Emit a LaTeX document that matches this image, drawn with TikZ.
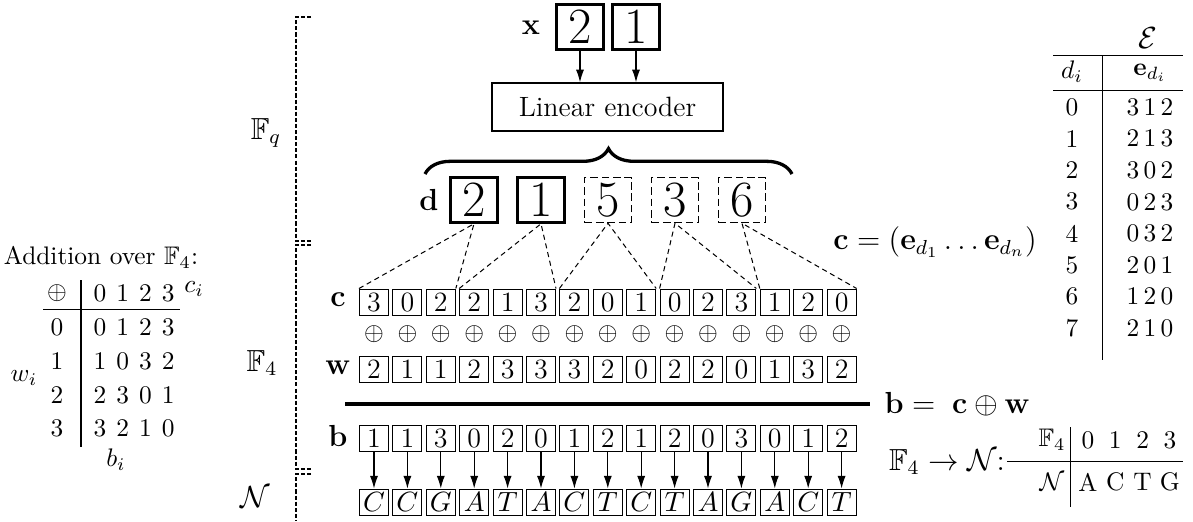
\documentclass[tikz,border=0pt]{standalone}
\usepackage{amsmath,amssymb}
\usetikzlibrary{decorations.pathreplacing,arrows.meta}
\newcommand\pxu{0.3937pt}
\begin{document}
\begin{tikzpicture}[x=0.3937pt,y=-0.3937pt,
  bigbox/.style={draw,line width=1pt,minimum width=47*\pxu,minimum height=45*\pxu,inner sep=0pt,font=\fontsize{20}{24}\selectfont},
  bigdash/.style={bigbox,line width=0.6pt,dash pattern=on 3pt off 1.5pt},
  cell/.style={draw,line width=0.4pt,minimum width=29*\pxu,minimum height=26*\pxu,inner sep=0pt,font=\fontsize{11}{13}\selectfont},
  lbl/.style={font=\large,inner sep=0pt},
  txt/.style={inner sep=0pt},
  link/.style={line width=0.4pt,dash pattern=on 2pt off 1.5pt},
  arr/.style={-{Latex[length=5pt,width=3.2pt]},line width=0.4pt},
  brk/.style={line width=0.6pt,dash pattern=on 1.6pt off 0.8pt},
  rule/.style={line width=0.4pt},
]
\useasboundingbox (0,0) rectangle (1193,521);

% ---- message and encoder ----
\node[lbl] (xl) at (531,28) {$\mathbf{x}$};
\node[bigbox] (x1) at (580,27) {2};
\node[bigbox] (x2) at (636,27) {1};
\node[draw,line width=0.6pt,minimum width=231*\pxu,minimum height=48*\pxu,font=\fontsize{11}{13}\selectfont] (enc) at (607.5,107) {Linear encoder};
\draw[arr] (x1.south) -- (x1.south |- enc.north);
\draw[arr] (x2.south) -- (x2.south |- enc.north);

% ---- brace over the symbols ----
\coordinate (bl) at (425,174);
\coordinate (br) at (792,174);
\draw[decorate,decoration={brace,amplitude=10pt},line width=1.3pt] (bl) -- (br);

% ---- symbol sequence d ----
\node[lbl] (dl) at (429,200) {$\mathbf{d}$};
\node[bigbox] (d1) at (474,200) {2};
\node[bigbox] (d2) at (541,200) {1};
\node[bigdash] (d3) at (608,200) {5};
\node[bigdash] (d4) at (675,200) {3};
\node[bigdash] (d5) at (742,200) {6};

% ---- codeword c, noise w, result b, nucleotides ----
\node[lbl] (cl) at (338,300) {$\mathbf{c}$};
\node[lbl] (wl) at (338,368) {$\mathbf{w}$};
\node[lbl] (bl2) at (338,436) {$\mathbf{b}$};
\foreach \v [count=\i] in {3,0,2,2,1,3,2,0,1,0,2,3,1,2,0}
  \node[cell] (c\i) at ({374+33.4*(\i-1)},302) {\v};
\foreach \i in {1,...,15}
  \node[txt] (o\i) at ({374+33.4*(\i-1)},334) {$\oplus$};
\foreach \v [count=\i] in {2,1,1,2,3,3,3,2,0,2,2,0,1,3,2}
  \node[cell] (w\i) at ({374+33.4*(\i-1)},369) {\v};
\foreach \v [count=\i] in {1,1,3,0,2,0,1,2,1,2,0,3,0,1,2}
  \node[cell] (b\i) at ({374+33.4*(\i-1)},438) {\v};
\foreach \v [count=\i] in {C,C,G,A,T,A,C,T,C,T,A,G,A,C,T}
  \node[cell] (n\i) at ({374+33.4*(\i-1)},502) {$\v$};
\foreach \i in {1,...,15}
  \draw[arr] (b\i.south) -- (n\i.north);

% each symbol expands to three quaternary digits
\draw[link] (c1.north west) -- (d1.south) -- (c3.north east);
\draw[link] (c4.north west) -- (d2.south) -- (c6.north east);
\draw[link] (c7.north west) -- (d3.south) -- (c9.north east);
\draw[link] (c10.north west) -- (d4.south) -- (c12.north east);
\draw[link] (c13.north west) -- (d5.south) -- (c15.north east);

\node[lbl] (ceq) at (935,242) {$\mathbf{c} = (\mathbf{e}_{d_1}\ldots\mathbf{e}_{d_n})$};

\coordinate (hl) at (345,404);
\coordinate (hr) at (870,404);
\draw[line width=1.4pt] (hl) -- (hr);
\node[lbl,anchor=west] (beq) at (884,404) {$\mathbf{b} =\;\mathbf{c} \oplus \mathbf{w}$};

% ---- field brackets on the left ----
\draw[brk] (311,17) -| (296,241) -- (311,241);
\draw[brk] (311,245) -| (296,469) -- (311,469);
\draw[brk] (311,474) -| (296,521);
\node[lbl] (fq) at (266,133) {$\mathbb{F}_q$};
\node[lbl] (f4) at (262,363) {$\mathbb{F}_4$};
\node[lbl] (nn) at (255,497) {$\mathcal{N}$};

% ---- addition table over F4 ----
\node[txt] (add) at (101,257) {Addition over $\mathbb{F}_4$:};
\node[txt] (oplus) at (57,293) {$\oplus$};
\foreach \v [count=\j] in {0,1,2,3}
  \node[txt] (h\j) at ({100+22.7*(\j-1)},293) {\v};
\node[txt] (ci) at (194,289) {$c_i$};
\draw[rule] (81,280) -- (81,447);
\draw[rule] (43,309) -- (180,309);
\foreach \r/\y/\row in {0/327/{0,1,2,3},1/361/{1,0,3,2},2/395/{2,3,0,1},3/428/{3,2,1,0}} {
  \node[txt] (r\r) at (57,\y) {\r};
  \foreach \v [count=\j] in \row
    \node[txt] (t\r\j) at ({100+22.7*(\j-1)},\y) {\v};
}
\node[txt] (wi) at (24,378) {$w_i$};
\node[txt] (bi) at (116,460) {$b_i$};

% ---- symbol table E ----
\node[lbl] (E) at (1148,38) {$\mathcal{E}$};
\draw[rule] (1053,55) -- (1183,55);
\draw[rule] (1053,90) -- (1183,90);
\draw[rule] (1102,55) -- (1102,360);
\node[txt] (dh) at (1072,72) {$d_i$};
\node[txt] (eh) at (1150,73) {$\mathbf{e}_{d_i}$};
\foreach \k/\e in {0/{3\,1\,2},1/{2\,1\,3},2/{3\,0\,2},3/{0\,2\,3},4/{0\,3\,2},5/{2\,0\,1},6/{1\,2\,0},7/{2\,1\,0}} {
  \node[txt] (ek\k) at (1072,{107+31.6*\k}) {\k};
  \node[txt] (ev\k) at (1150,{107+31.6*\k}) {$\e$};
}

% ---- mapping F4 -> N ----
\node[lbl] (map) at (947,462) {$\mathbb{F}_4 \to \mathcal{N}$:};
\node[txt] (mf) at (1052,440) {$\mathbb{F}_4$};
\node[txt] (mn) at (1052,482) {$\mathcal{N}$};
\draw[rule] (1070,427) -- (1070,507);
\draw[rule] (1007,461) -- (1183,461);
\foreach \v/\l [count=\j] in {0/A,1/C,2/T,3/G} {
  \node[txt] (mv\j) at ({1088+27.3*(\j-1)},440) {\v};
  \node[txt] (ml\j) at ({1088+27.3*(\j-1)},482) {\l};
}
\end{tikzpicture}
\end{document}
